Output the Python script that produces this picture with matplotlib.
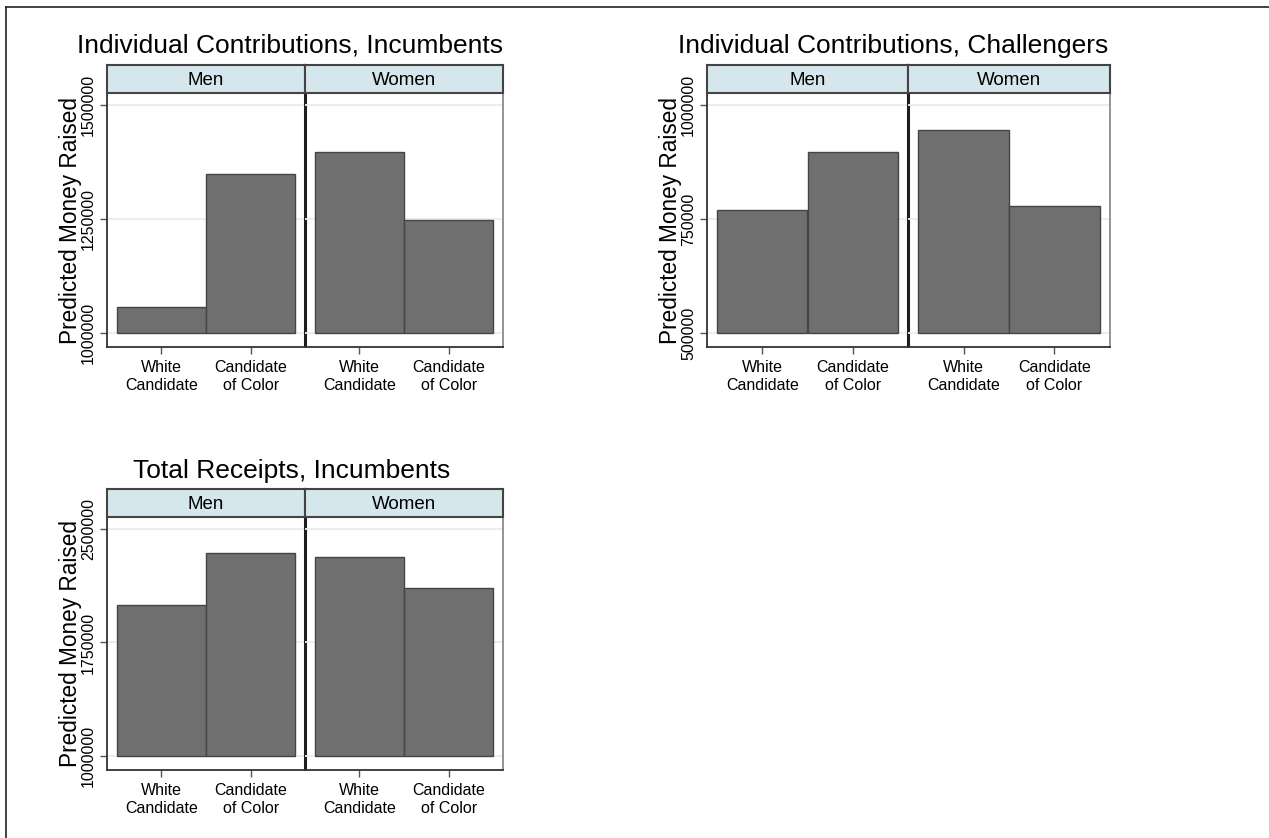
import matplotlib
matplotlib.use("Agg")
import matplotlib.pyplot as plt
from matplotlib.lines import Line2D

# ---- data ----
groups = ["Men", "Women"]
race_labels = ["White\nCandidate", "Candidate\nof Color"]

indiv_inc_men = [1057000, 1349000]
indiv_inc_women = [1397000, 1248000]
indiv_chal_men = [770000, 897000]
indiv_chal_women = [945000, 778000]
total_inc_men = [1995000, 2343000]
total_inc_women = [2317000, 2113000]

titles = [
    "Individual Contributions, Incumbents",
    "Individual Contributions, Challengers",
    "Total Receipts, Incumbents",
]
yticks_sets = [
    [1000000, 1250000, 1500000],
    [500000, 750000, 1000000],
    [1000000, 1750000, 2500000],
]
ylabel = "Predicted Money Raised"

W, H = 1269, 838
plt.rcParams["font.family"] = ["Liberation Sans", "DejaVu Sans"]

BAR_COLOR = "#6f6f6f"
BAR_EDGE = "#454545"
STRIP_COLOR = "#d5e6ec"
DARK = "#333333"
GRID = "#e4eef1"

fig = plt.figure(figsize=(W / 100, H / 100), dpi=100)


def box(x0, y0, x1, y1):
    # pixel box (top-left origin) -> figure fraction rect
    return [x0 / W, 1 - y1 / H, (x1 - x0) / W, (y1 - y0) / H]


def draw_panel(title, men, women, yticks, x0, xdiv, x1, ystrip, ytop, ybot, title_x, title_y):
    # axis range: base tick ~14px above the bottom, top tick ~12px below strip
    span_px = ybot - ytop
    px_per_val = (span_px - 14 - 12) / (yticks[-1] - yticks[0])
    ylo = yticks[0] - 14 / px_per_val
    yhi = yticks[-1] + 12 / px_per_val

    for i, (vals, grp) in enumerate(zip([men, women], groups)):
        left = x0 if i == 0 else xdiv
        right = xdiv if i == 0 else x1
        ax = fig.add_axes(box(left, ytop, right, ybot))
        ax.set_facecolor("none")
        for t in yticks:
            ax.axhline(t, color=GRID, lw=1.3, zorder=0)
        ax.bar([0, 1], [v - yticks[0] for v in vals], bottom=yticks[0], width=1.0,
               color=BAR_COLOR, edgecolor=BAR_EDGE, linewidth=1.0, zorder=2)
        ax.set_xlim(-0.61, 1.61)
        ax.set_ylim(ylo, yhi)
        ax.set_xticks([0, 1])
        ax.set_xticklabels(race_labels, fontsize=11.5, linespacing=1.3)
        ax.tick_params(axis="x", direction="out", length=5, width=1, color="#555555", pad=4)
        for s in ax.spines.values():
            s.set_color(DARK)
            s.set_linewidth(1.3)
        ax.spines["top"].set_visible(False)
        if i == 0:
            ax.set_yticks(yticks)
            ax.set_yticklabels([str(t) for t in yticks], fontsize=11.5, rotation=90, va="center")
            ax.tick_params(axis="y", direction="out", length=5, width=1, color="#555555", pad=3)
            ax.set_ylabel(ylabel, fontsize=16.3, labelpad=-1)
            ax.spines["right"].set_linewidth(2.2)
            ax.spines["right"].set_color("#1e1e1e")
            ax.spines["right"].set_capstyle("butt")
            ax.spines["right"].set_zorder(5)
        else:
            ax.set_yticks([])
            ax.spines["left"].set_visible(False)
            ax.spines["right"].set_color("#8a8a8a")

        # strip header
        sax = fig.add_axes(box(left, ystrip, right, ytop))
        sax.set_xticks([])
        sax.set_yticks([])
        sax.set_facecolor(STRIP_COLOR)
        for s in sax.spines.values():
            s.set_color("#444444")
            s.set_linewidth(1.5)
        sax.text(0.5, 0.46, grp, ha="center", va="center", fontsize=13.5, transform=sax.transAxes)

    fig.text(title_x / W, 1 - title_y / H, title, ha="center", va="baseline", fontsize=19)


draw_panel(titles[0], indiv_inc_men, indiv_inc_women, yticks_sets[0],
           107, 305, 503, 65, 93, 347, 290, 53)
draw_panel(titles[1], indiv_chal_men, indiv_chal_women, yticks_sets[1],
           707, 908, 1110, 65, 93, 347, 893, 53)
draw_panel(titles[2], total_inc_men, total_inc_women, yticks_sets[2],
           107, 305, 503, 489, 517, 770, 292, 478)

# figure frame lines (left and top edges of the scan)
fig.add_artist(Line2D([6 / W, 6 / W], [0, 1 - 7 / H], color="#222222", lw=1.2))
fig.add_artist(Line2D([6 / W, 1], [1 - 7 / H, 1 - 7 / H], color="#222222", lw=1.2))

fig.savefig("out.png", dpi=100)
